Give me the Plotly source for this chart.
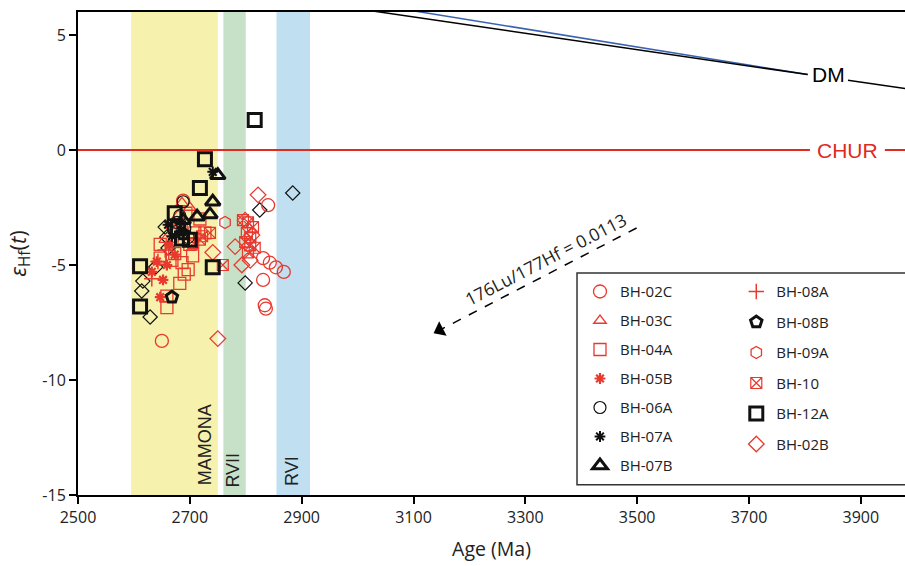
import plotly.graph_objects as go

# ---------------- data ----------------
RED = "#e8392e"
BLACK = "#111111"

BH02C_X = [2840, 2831, 2843, 2854, 2868, 2831, 2834, 2836, 2688, 2650]
BH02C_Y = [-2.4, -4.7, -4.9, -5.1, -5.3, -5.65, -6.75, -6.9, -2.2, -8.3]

BH03C_X = [2686, 2700, 2679, 2656, 2668]
BH03C_Y = [-2.3, -2.5, -2.85, -3.9, -3.3]

BH04A_X = [2659, 2659, 2682, 2697, 2686, 2673, 2700, 2709, 2668, 2647, 2718, 2693, 2727, 2647, 2690, 2705]
BH04A_Y = [-6.85, -6.35, -5.8, -5.2, -4.9, -4.5, -4.1, -3.6, -4.8, -4.7, -3.0, -2.75, -3.6, -4.1, -5.4, -4.6]

BH05B_X = [2632, 2652, 2647, 2659, 2673, 2664, 2641]
BH05B_Y = [-5.3, -5.65, -6.4, -5.0, -4.55, -4.15, -4.85]

BH06A_X = [2688, 2682, 2677, 2691, 2697, 2675]
BH06A_Y = [-2.25, -2.85, -3.15, -3.4, -3.8, -3.55]

BH07A_X = [2741, 2661, 2668, 2684]
BH07A_Y = [-0.95, -3.25, -3.75, -3.5]

BH07B_X = [2750, 2741, 2736, 2713, 2688]
BH07B_Y = [-1.1, -2.25, -2.8, -2.9, -3.05]

BH08A_X = [2643, 2656, 2679, 2632]
BH08A_Y = [-4.85, -4.35, -3.7, -5.6]

BH08B_X = [2668, 2688]
BH08B_Y = [-6.4, -3.65]

BH09A_X = [2763, 2686]
BH09A_Y = [-3.15, -3.4]

BH10_X = [2795, 2804, 2813, 2802, 2808, 2799, 2808, 2816, 2804, 2759, 2722, 2736, 2706, 2718]
BH10_Y = [-3.05, -3.15, -3.35, -3.6, -3.8, -4.0, -4.15, -4.25, -4.45, -5.0, -3.75, -3.6, -4.05, -3.9]

BH12A_X = [2816, 2727, 2718, 2673, 2611, 2611, 2741, 2679, 2686, 2700]
BH12A_Y = [1.3, -0.4, -1.65, -2.75, -5.05, -6.8, -5.1, -3.4, -3.85, -3.9]

BH02B_X = [2822, 2741, 2750, 2781, 2793, 2808, 2811, 2799]
BH02B_Y = [-1.95, -4.45, -8.2, -4.2, -5.0, -4.8, -3.7, -3.05]

BH02B_BLACK_X = [2884, 2799, 2825, 2656, 2659, 2661, 2639, 2616, 2614, 2629]
BH02B_BLACK_Y = [-1.87, -5.78, -2.61, -3.35, -3.78, -4.26, -5.09, -5.7, -6.13, -7.26]

# reference curves
DM_X1 = [3000, 3805]
DM_Y1 = [6.14, 3.28]
DM_X2 = [3877, 3990]
DM_Y2 = [3.03, 2.63]
DMB_X = [3100, 3805]
DMB_Y = [6.05, 3.28]
CHUR_X1 = [2500, 3809]
CHUR_X2 = [3943, 3990]
CHUR_Y = [0, 0]

ARROW_X = [3499, 3147]
ARROW_Y = [-3.39, -7.83]

BANDS = [("MAMONA", 2595, 2750, "#f6f2ad"), ("RVII", 2760, 2800, "#c6e1c7"), ("RVI", 2855, 2915, "#c0e0f2")]
BAND_LABEL_X = [2727, 2777, 2883]
BAND_LABEL_Y = [-12.8, -13.9, -13.95]

X_TICKS = [2500, 2700, 2900, 3100, 3300, 3500, 3700, 3900]
Y_TICKS = [-15, -10, -5, 0, 5]
Y_TICKTEXT = ["-15", "-10", "-5", "0", "5"]

FONT = "Open Sans"
ARIAL = "Liberation Sans"

fig = go.Figure()

# reference lines
fig.add_trace(go.Scatter(x=DMB_X, y=DMB_Y, mode="lines", line=dict(color="#3b62b0", width=1.5),
                         showlegend=False, hoverinfo="skip"))
fig.add_trace(go.Scatter(x=DM_X1, y=DM_Y1, mode="lines", line=dict(color="black", width=1.5),
                         showlegend=False, hoverinfo="skip"))
fig.add_trace(go.Scatter(x=DM_X2, y=DM_Y2, mode="lines", line=dict(color="black", width=1.5),
                         showlegend=False, hoverinfo="skip"))
fig.add_trace(go.Scatter(x=CHUR_X1, y=CHUR_Y, mode="lines", line=dict(color="#e02a1f", width=2),
                         showlegend=False, hoverinfo="skip"))
fig.add_trace(go.Scatter(x=CHUR_X2, y=CHUR_Y, mode="lines", line=dict(color="#e02a1f", width=2),
                         showlegend=False, hoverinfo="skip"))

# arrow
fig.add_trace(go.Scatter(x=ARROW_X, y=ARROW_Y, mode="lines",
                         line=dict(color="black", width=1.5, dash="dash"),
                         showlegend=False, hoverinfo="skip"))
fig.add_trace(go.Scatter(x=ARROW_X[1:], y=ARROW_Y[1:], mode="markers",
                         marker=dict(symbol="triangle-up", size=14, angle=-117.4, color="black"),
                         showlegend=False, hoverinfo="skip"))

# series: (name, x, y, symbol, color, size, linewidth, legend, rank)
SERIES = [
    ("BH-02C", BH02C_X, BH02C_Y, "circle-open", RED, 13, 1.3, "legend", 1),
    ("BH-03C", BH03C_X, BH03C_Y, "triangle-up-open", RED, 11, 1.3, "legend", 2),
    ("BH-04A", BH04A_X, BH04A_Y, "square-open", RED, 12, 1.3, "legend", 3),
    ("BH-05B", BH05B_X, BH05B_Y, "asterisk-open", RED, 9, 2.2, "legend", 4),
    ("BH-08A", BH08A_X, BH08A_Y, "cross-thin-open", RED, 11, 1.5, "legend2", 8),
    ("BH-09A", BH09A_X, BH09A_Y, "hexagon-open", RED, 12, 1.3, "legend2", 10),
    ("BH-10", BH10_X, BH10_Y, "square-x-open", RED, 11, 1.2, "legend2", 11),
    ("BH-02B", BH02B_X, BH02B_Y, "diamond-open", RED, 12, 1.3, "legend2", 13),
    ("BH-06A", BH06A_X, BH06A_Y, "circle-open", BLACK, 12, 1.2, "legend", 5),
    ("BH-07A", BH07A_X, BH07A_Y, "asterisk-open", BLACK, 9, 2, "legend", 6),
    ("BH-07B", BH07B_X, BH07B_Y, "triangle-up-open", BLACK, 13, 3, "legend", 7),
    ("BH-08B", BH08B_X, BH08B_Y, "pentagon-open", BLACK, 12, 3, "legend2", 9),
    ("BH-12A", BH12A_X, BH12A_Y, "square-open", BLACK, 13, 3, "legend2", 12),
]

fig.add_trace(go.Scatter(x=BH02B_BLACK_X, y=BH02B_BLACK_Y, mode="markers",
                         marker=dict(symbol="diamond-open", size=11, color=BLACK, line=dict(width=1.2, color=BLACK)),
                         showlegend=False, name="BH-02B"))

for name, xs, ys, sym, col, size, lw, leg, rank in SERIES:
    fig.add_trace(go.Scatter(x=xs, y=ys, mode="markers", name=name,
                             marker=dict(symbol=sym, size=size, color=col, line=dict(width=lw, color=col)),
                             legend=leg, legendrank=rank, legendgroup=name))

shapes = []
for label, x0, x1, colr in BANDS:
    shapes.append(dict(type="rect", xref="x", yref="paper", x0=x0, x1=x1, y0=0, y1=1,
                       fillcolor=colr, line=dict(width=0), layer="below"))
# legend frame
shapes.append(dict(type="rect", xref="paper", yref="paper", x0=0.6034, x1=1.02, y0=0.021, y1=0.4596,
                   line=dict(color="#333333", width=1.5), fillcolor="white", layer="below"))

annotations = []
for (label, *_), lx, ly in zip(BANDS, BAND_LABEL_X, BAND_LABEL_Y):
    annotations.append(dict(x=lx, y=ly, text=label, showarrow=False, textangle=-90,
                            font=dict(family=ARIAL, size=18, color="#222")))
annotations.append(dict(x=DM_X1[1] + 38, y=DM_Y1[1], text="DM", showarrow=False,
                        font=dict(family=ARIAL, size=21, color="black")))
annotations.append(dict(x=CHUR_X1[1] + 67, y=0, text="CHUR", showarrow=False,
                        font=dict(family=ARIAL, size=21, color="#e02a1f")))
annotations.append(dict(x=3336, y=-4.72, text="176Lu/177Hf = 0.0113", showarrow=False, textangle=-27.4,
                        font=dict(family=FONT, size=17.5, color="#222")))

legend_common = dict(font=dict(family=FONT, size=15, color="#222"), bgcolor="rgba(0,0,0,0)",
                     yanchor="top", xanchor="left", itemclick=False)

fig.update_layout(
    width=905, height=566,
    margin=dict(l=78, r=0, t=12, b=71),
    plot_bgcolor="white", paper_bgcolor="white",
    font=dict(family=FONT, size=16, color="#222"),
    shapes=shapes, annotations=annotations,
    legend=dict(x=0.607, y=0.455, tracegroupgap=6.5, **legend_common),
    legend2=dict(x=0.796, y=0.455, tracegroupgap=8, **legend_common),
    xaxis=dict(range=[2500, 3979], tickvals=X_TICKS, showgrid=False, zeroline=False,
               showline=True, linecolor="black", linewidth=2, mirror=True,
               ticks="outside", ticklen=7, tickwidth=1.5, tickcolor="black",
               tickfont=dict(family=FONT, size=16, color="#222"),
               title=dict(text="Age (Ma)", font=dict(family=FONT, size=19.5, color="#222"), standoff=15)),
    yaxis=dict(range=[-15, 6], tickvals=Y_TICKS, ticktext=Y_TICKTEXT, showgrid=False, zeroline=False,
               showline=True, linecolor="black", linewidth=2,
               ticks="outside", ticklen=7, tickwidth=1.5, tickcolor="black",
               tickfont=dict(family=FONT, size=16, color="#222"),
               title=dict(text="<i>ε</i><sub>Hf</sub>(<i>t</i>)", font=dict(family=FONT, size=22, color="#222"),
                          standoff=10)),
)

fig.write_html("out.html")
